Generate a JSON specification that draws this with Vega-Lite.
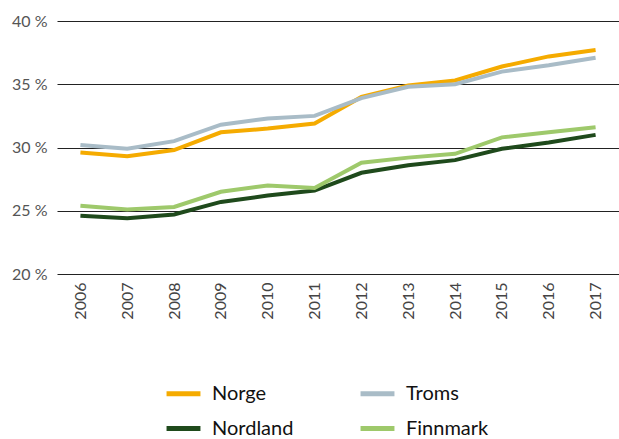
{
  "$schema": "https://vega.github.io/schema/vega-lite/v6.json",
  "width": 562,
  "height": 253,
  "autosize": "none",
  "padding": {"left": 57, "top": 21, "right": 0, "bottom": 165},
  "background": "white",
  "config": {"view": {"stroke": null}, "font": "Lato"},
  "data": {"values": [
    {"year": "2006", "region": "Norge", "value": 29.6},
    {"year": "2007", "region": "Norge", "value": 29.3},
    {"year": "2008", "region": "Norge", "value": 29.8},
    {"year": "2009", "region": "Norge", "value": 31.2},
    {"year": "2010", "region": "Norge", "value": 31.5},
    {"year": "2011", "region": "Norge", "value": 31.9},
    {"year": "2012", "region": "Norge", "value": 34.0},
    {"year": "2013", "region": "Norge", "value": 34.9},
    {"year": "2014", "region": "Norge", "value": 35.3},
    {"year": "2015", "region": "Norge", "value": 36.4},
    {"year": "2016", "region": "Norge", "value": 37.2},
    {"year": "2017", "region": "Norge", "value": 37.7},
    {"year": "2006", "region": "Troms", "value": 30.2},
    {"year": "2007", "region": "Troms", "value": 29.9},
    {"year": "2008", "region": "Troms", "value": 30.5},
    {"year": "2009", "region": "Troms", "value": 31.8},
    {"year": "2010", "region": "Troms", "value": 32.3},
    {"year": "2011", "region": "Troms", "value": 32.5},
    {"year": "2012", "region": "Troms", "value": 33.9},
    {"year": "2013", "region": "Troms", "value": 34.8},
    {"year": "2014", "region": "Troms", "value": 35.0},
    {"year": "2015", "region": "Troms", "value": 36.0},
    {"year": "2016", "region": "Troms", "value": 36.5},
    {"year": "2017", "region": "Troms", "value": 37.1},
    {"year": "2006", "region": "Nordland", "value": 24.6},
    {"year": "2007", "region": "Nordland", "value": 24.4},
    {"year": "2008", "region": "Nordland", "value": 24.7},
    {"year": "2009", "region": "Nordland", "value": 25.7},
    {"year": "2010", "region": "Nordland", "value": 26.2},
    {"year": "2011", "region": "Nordland", "value": 26.6},
    {"year": "2012", "region": "Nordland", "value": 28.0},
    {"year": "2013", "region": "Nordland", "value": 28.6},
    {"year": "2014", "region": "Nordland", "value": 29.0},
    {"year": "2015", "region": "Nordland", "value": 29.9},
    {"year": "2016", "region": "Nordland", "value": 30.4},
    {"year": "2017", "region": "Nordland", "value": 31.0},
    {"year": "2006", "region": "Finnmark", "value": 25.4},
    {"year": "2007", "region": "Finnmark", "value": 25.1},
    {"year": "2008", "region": "Finnmark", "value": 25.3},
    {"year": "2009", "region": "Finnmark", "value": 26.5},
    {"year": "2010", "region": "Finnmark", "value": 27.0},
    {"year": "2011", "region": "Finnmark", "value": 26.8},
    {"year": "2012", "region": "Finnmark", "value": 28.8},
    {"year": "2013", "region": "Finnmark", "value": 29.2},
    {"year": "2014", "region": "Finnmark", "value": 29.5},
    {"year": "2015", "region": "Finnmark", "value": 30.8},
    {"year": "2016", "region": "Finnmark", "value": 31.2},
    {"year": "2017", "region": "Finnmark", "value": 31.6}
  ]},
  "mark": {"type": "line", "strokeWidth": 4},
  "encoding": {
    "x": {
      "field": "year", "type": "ordinal",
      "scale": {"type": "point", "padding": 0.5},
      "axis": {"title": null, "labelAngle": -90, "labelAlign": "right", "labelBaseline": "middle", "labelPadding": 8, "labelFontSize": 16, "labelColor": "#444", "domain": false, "ticks": false, "grid": false}
    },
    "y": {
      "field": "value", "type": "quantitative",
      "scale": {"domain": [20, 40], "nice": false, "zero": false},
      "axis": {"title": null, "values": [20, 25, 30, 35, 40], "labelExpr": "datum.value + ' %'", "labelFontSize": 16, "labelColor": "#555", "labelPadding": 10, "domain": false, "ticks": false, "grid": true, "gridColor": "#222", "gridWidth": 1.2}
    },
    "color": {
      "field": "region", "type": "nominal",
      "scale": {"domain": ["Norge", "Troms", "Nordland", "Finnmark"], "range": ["#f5ab00", "#a9bcc7", "#1f4a1c", "#9ec96b"]},
      "legend": {"title": null, "orient": "none", "legendX": 107, "legendY": 353, "columns": 2, "direction": "horizontal", "symbolType": "stroke", "symbolSize": 1150, "symbolStrokeWidth": 5, "labelFontSize": 20, "labelColor": "#111", "labelOffset": 9, "columnPadding": 56, "rowPadding": 5}
    }
  }
}
